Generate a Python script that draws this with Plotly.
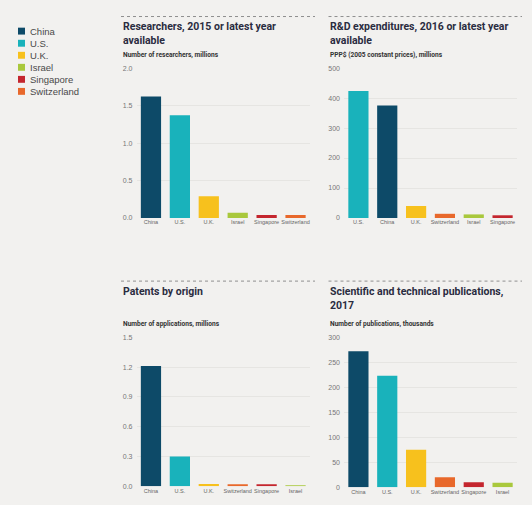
import plotly.graph_objects as go

W, H = 532, 505

# data
countries = ["China", "U.S.", "U.K.", "Israel", "Singapore", "Switzerland"]

researchers_cat = ["China", "U.S.", "U.K.", "Israel", "Singapore", "Switzerland"]
researchers_val = [1.62, 1.37, 0.29, 0.07, 0.04, 0.04]

rd_cat = ["U.S.", "China", "U.K.", "Switzerland", "Israel", "Singapore"]
rd_val = [424, 375, 40, 14, 12, 9]

patents_cat = ["China", "U.S.", "U.K.", "Switzerland", "Singapore", "Israel"]
patents_val = [1.21, 0.30, 0.022, 0.012, 0.010, 0.007]

pubs_cat = ["China", "U.S.", "U.K.", "Switzerland", "Singapore", "Israel"]
pubs_val = [272, 223, 75, 20, 10, 9]

colors = {
    "China": "#0d4a68",
    "U.S.": "#19b2bb",
    "U.K.": "#f7c11d",
    "Israel": "#a9c83c",
    "Singapore": "#c4262e",
    "Switzerland": "#e8682b",
}

BG = "#f2f1ef"
TITLE_FONT = "Roboto, Arial"
TEXT_FONT = "Liberation Sans, Arial"


def px_x(v):
    return v / W


def px_y(v):
    return 1 - v / H


panels = [
    # categories, values, x px, y px, range, dtick, fmt, title lines, subtitle, line y
    (researchers_cat, researchers_val, (136.5, 310), (65, 217), 2.0, 0.5, ".1f",
     ["Researchers, 2015 or latest year", "available"],
     "Number of researchers, millions", 12.7),
    (rd_cat, rd_val, (344, 517), (65, 217), 500, 100, "d",
     ["R&D expenditures, 2016 or latest year", "available"],
     "PPP$ (2005 constant prices), millions", 12.7),
    (patents_cat, patents_val, (136.5, 310), (338, 489), 1.5, 0.3, ".1f",
     ["Patents by origin"],
     "Number of applications, millions", 281),
    (pubs_cat, pubs_val, (344, 517), (338, 490), 300, 50, "d",
     ["Scientific and technical publications,", "2017"],
     "Number of publications, thousands", 281),
]

fig = go.Figure()
annotations = []
shapes = []

for i, (cats, vals, xd, yd, top, dtick, fmt, title, sub, line_y) in enumerate(panels):
    n = "" if i == 0 else str(i + 1)
    fig.add_trace(
        go.Bar(
            x=cats,
            y=vals,
            marker=dict(color=[colors[c] for c in cats], line=dict(width=0)),
            width=0.7,
            xaxis="x" + n,
            yaxis="y" + n,
            showlegend=False,
            hoverinfo="x+y",
        )
    )
    fig.update_layout(
        {
            "xaxis" + n: dict(
                domain=[px_x(xd[0]), px_x(xd[1])],
                anchor="y" + n,
                type="category",
                categoryorder="array",
                categoryarray=cats,
                showgrid=False,
                showline=False,
                ticks="",
                tickangle=0,
                tickfont=dict(size=5.5, color="#666", family=TEXT_FONT),
                fixedrange=True,
            ),
            "yaxis" + n: dict(
                domain=[px_y(yd[1]), px_y(yd[0])],
                anchor="x" + n,
                range=[0, top],
                dtick=dtick,
                tickformat=fmt,
                showgrid=True,
                gridcolor="#e6e5e2",
                gridwidth=1,
                zeroline=False,
                showline=False,
                ticks="",
                tickfont=dict(size=7, color="#777", family=TEXT_FONT),
                ticklabelstandoff=3,
                fixedrange=True,
            ),
        }
    )
    left = xd[0] - 15.5
    right = xd[1] + 5
    shapes.append(
        dict(
            type="line", xref="paper", yref="paper",
            x0=px_x(left), x1=px_x(right), y0=px_y(line_y), y1=px_y(line_y),
            line=dict(color="#8f8f8f", width=1, dash="dot"),
        )
    )
    # title block (one or two lines) just under the dotted rule
    annotations.append(
        dict(
            text="<br>".join("<b>%s</b>" % t for t in title),
            xref="paper", yref="paper",
            x=px_x(left), y=px_y(line_y + 1.5),
            xanchor="left", yanchor="top", align="left", showarrow=False,
            font=dict(size=10.5, color="#2a2c3f", family=TITLE_FONT),
        )
    )
    annotations.append(
        dict(
            text="<b>%s</b>" % sub, xref="paper", yref="paper",
            x=px_x(left), y=px_y(line_y + 38.8 if i < 2 else line_y + 44),
            xanchor="left", yanchor="middle", showarrow=False,
            font=dict(size=6.6, color="#333", family=TITLE_FONT),
        )
    )

# legend at the left, drawn by hand
legend_y = [27.5, 39.8, 52, 64.2, 76.4, 88.6]
for c, ly in zip(countries, legend_y):
    shapes.append(
        dict(
            type="rect", xref="paper", yref="paper",
            x0=px_x(18), x1=px_x(25), y0=px_y(ly + 3.5), y1=px_y(ly - 3.5),
            fillcolor=colors[c], line=dict(width=0),
        )
    )
    annotations.append(
        dict(
            text=c, xref="paper", yref="paper",
            x=px_x(28), y=px_y(ly), xanchor="left", yanchor="middle",
            showarrow=False,
            font=dict(size=9.5, color="#4a4a4a", family=TEXT_FONT),
        )
    )

fig.update_layout(
    width=W,
    height=H,
    margin=dict(l=0, r=0, t=0, b=0),
    paper_bgcolor=BG,
    plot_bgcolor=BG,
    bargap=0.3,
    annotations=annotations,
    shapes=shapes,
    showlegend=False,
)

fig.write_html(
    "out.html",
    config={"displayModeBar": False},
    post_script="document.body.style.margin='0';document.body.style.overflow='hidden';",
)
